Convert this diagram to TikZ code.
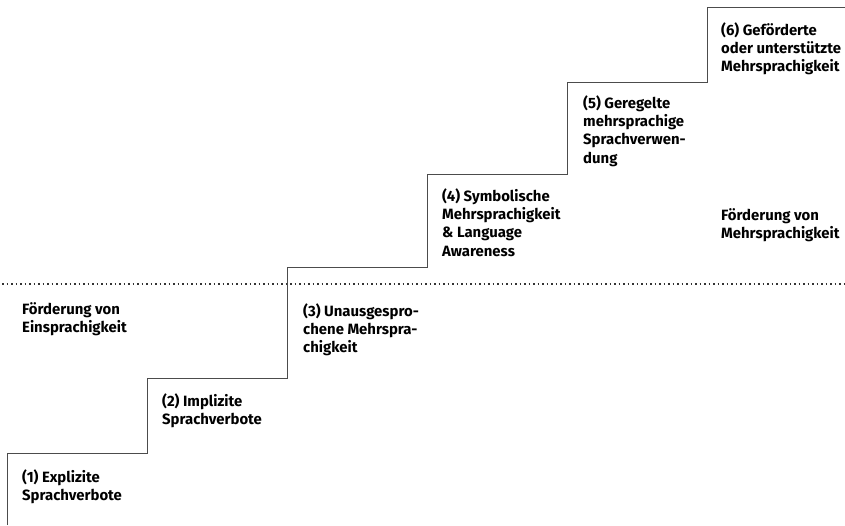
\documentclass[tikz,border=0pt]{standalone}
\usepackage{fontspec}
\setmainfont{Fira Sans}
\usetikzlibrary{positioning}
\tikzset{
  stufe/.style={anchor=north west,align=left,inner sep=0pt,
    font=\fontsize{14.9}{18.2}\selectfont\bfseries},
  bereich/.style={stufe},
  treppe/.style={draw=black!70,line width=1pt},
  grenze/.style={draw=black!80,line width=1.6pt,dash pattern=on 1.6pt off 2.9pt}
}
\begin{document}
\begin{tikzpicture}[x=1pt,y=-1pt]
\useasboundingbox (0,0) rectangle (845,525);
% staircase
\draw[treppe] (7.5,525) |- (147.5,453.5) |- (287.5,378.5) |- (427.5,267.5)
  |- (567.5,174) |- (707.5,82.5) |- (845,7);
% border between the two areas
\coordinate (gl) at (2,284);
\coordinate (gr) at (845,284);
\draw[grenze] (gl) -- (gr);
% steps
\node[stufe] (s1) at (22,469.5) {(1) Explizite\\Sprachverbote};
\node[stufe] (s2) at (162,393.5) {(2) Implizite\\Sprachverbote};
\node[stufe] (s3) at (303,303.5) {(3) Unausgespro-\\chene Mehrspra-\\chigkeit};
\node[stufe] (s4) at (442,188.5) {(4) Symbolische\\Mehrsprachigkeit\\\& Language\\Awareness};
\node[stufe] (s5) at (583,95.5) {(5) Geregelte\\mehrsprachige\\Sprachverwen-\\dung};
\node[stufe] (s6) at (721,22.5) {(6) Geförderte\\oder unterstützte\\Mehrsprachigkeit};
% areas
\node[bereich] (einsp) at (22,302.5) {Förderung von\\Einsprachigkeit};
\node[bereich] (mehrsp) at (721,208.5) {Förderung von\\Mehrsprachigkeit};
\end{tikzpicture}
\end{document}
